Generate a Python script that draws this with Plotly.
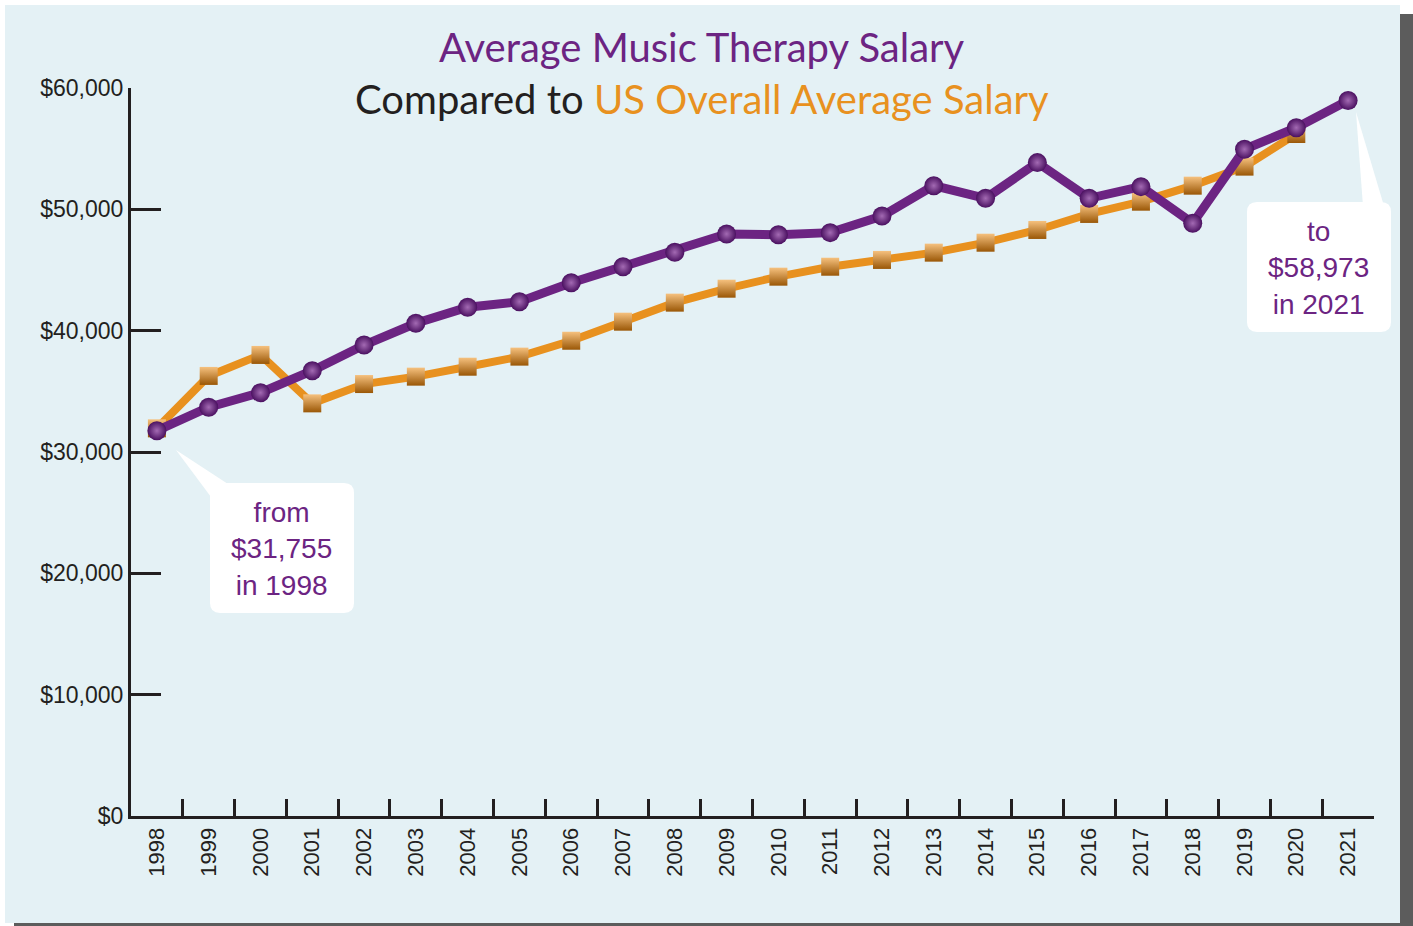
import plotly.graph_objects as go

# ---------------- data ----------------
years = [str(y) for y in range(1998, 2022)]
music_therapy_salary = [31755, 33690, 34890, 36700, 38820, 40610, 41930, 42390,
                        43950, 45270, 46460, 47970, 47910, 48080, 49450, 51950,
                        50910, 53850, 50910, 51870, 48850, 54950, 56730, 58973]
us_years = [str(y) for y in range(1998, 2021)]
us_overall_salary = [31950, 36270, 38000, 34010, 35600, 36210, 37030, 37860,
                     39170, 40740, 42310, 43460, 44450, 45270, 45830, 46430,
                     47250, 48300, 49620, 50630, 51950, 53520, 56210]
y_tick_vals = [0, 10000, 20000, 30000, 40000, 50000, 60000]
y_tick_text = ["$0", "$10,000", "$20,000", "$30,000", "$40,000", "$50,000", "$60,000"]

# ---------------- style ----------------
W, H = 1413, 926
ML, MR, MT, MB = 131, 39, 88, 110
PW, PH = W - ML - MR, H - MT - MB
PURPLE = "#6c2482"
PURPLE_LIGHT = "#a36ab3"
PURPLE_DARK = "#4a1060"
ORANGE = "#e8911f"
ORANGE_LIGHT = "#f6c17e"
ORANGE_DARK = "#9a5706"
PANEL = "#e4f1f5"
AXIS = "#231f20"
LABEL_FONT = "Liberation Sans, Arial, Helvetica, sans-serif"
TITLE_FONT = "Lato, Century Gothic, sans-serif"


def px_x(px):
    return (px - ML) / PW


def px_y(py):
    return (H - MB - py) / PH


def rounded_rect(x0, y0, x1, y1, r):
    def P(x, y):
        return f"{px_x(x):.5f},{px_y(y):.5f}"
    return (f"M {P(x0 + r, y0)} L {P(x1 - r, y0)} Q {P(x1, y0)} {P(x1, y0 + r)} "
            f"L {P(x1, y1 - r)} Q {P(x1, y1)} {P(x1 - r, y1)} "
            f"L {P(x0 + r, y1)} Q {P(x0, y1)} {P(x0, y1 - r)} "
            f"L {P(x0, y0 + r)} Q {P(x0, y0)} {P(x0 + r, y0)} Z")


def triangle(a, b, c):
    def P(p):
        return f"{px_x(p[0]):.5f},{px_y(p[1]):.5f}"
    return f"M {P(a)} L {P(b)} L {P(c)} Z"


fig = go.Figure()

fig.add_trace(go.Scatter(
    x=us_years, y=us_overall_salary, mode="lines+markers",
    line=dict(color=ORANGE, width=8),
    marker=dict(symbol="square", size=18, color=ORANGE_LIGHT,
                gradient=dict(type="vertical", color=ORANGE_DARK),
                line=dict(width=0)),
    showlegend=False, hoverinfo="x+y",
))
fig.add_trace(go.Scatter(
    x=years, y=music_therapy_salary, mode="lines+markers",
    line=dict(color=PURPLE, width=9),
    marker=dict(symbol="circle", size=19, color=PURPLE_DARK,
                gradient=dict(type="radial", color=PURPLE_LIGHT),
                line=dict(width=0)),
    showlegend=False, hoverinfo="x+y",
))

shapes = [
    # drop shadow and panel
    dict(type="rect", xref="paper", yref="paper", layer="below",
         x0=px_x(14), x1=px_x(1413), y0=px_y(926), y1=px_y(14),
         fillcolor="#5c5c5c", line=dict(width=0)),
    dict(type="rect", xref="paper", yref="paper", layer="below",
         x0=px_x(5), x1=px_x(1400), y0=px_y(923), y1=px_y(5),
         fillcolor=PANEL, line=dict(width=0)),
    # callout boxes
    dict(type="path", xref="paper", yref="paper", layer="below",
         path=rounded_rect(210, 483, 354, 613, 10),
         fillcolor="white", line=dict(width=0)),
    dict(type="path", xref="paper", yref="paper", layer="below",
         path=triangle((176, 450), (211, 497), (228, 484)),
         fillcolor="white", line=dict(width=0)),
    dict(type="path", xref="paper", yref="paper", layer="below",
         path=rounded_rect(1247, 202, 1391, 332, 10),
         fillcolor="white", line=dict(width=0)),
    dict(type="path", xref="paper", yref="paper", layer="below",
         path=triangle((1356, 112), (1363, 206), (1384, 206)),
         fillcolor="white", line=dict(width=0)),
]

annotations = [
    dict(xref="paper", yref="paper", x=px_x(702), y=px_y(47),
         text="Average Music Therapy Salary", showarrow=False,
         xanchor="center", yanchor="middle",
         font=dict(family=TITLE_FONT, size=40, color=PURPLE)),
    dict(xref="paper", yref="paper", x=px_x(702), y=px_y(99),
         text=f"Compared to <span style='color:{ORANGE}'>US Overall Average Salary</span>",
         showarrow=False, xanchor="center", yanchor="middle",
         font=dict(family=TITLE_FONT, size=40, color="#231f20")),
    dict(xref="paper", yref="paper", x=px_x(281), y=px_y(549),
         text="from<br>$31,755<br>in 1998", showarrow=False,
         xanchor="center", yanchor="middle", align="center",
         font=dict(family=LABEL_FONT, size=28, color=PURPLE)),
    dict(xref="paper", yref="paper", x=px_x(1318), y=px_y(268),
         text="to<br>$58,973<br>in 2021", showarrow=False,
         xanchor="center", yanchor="middle", align="center",
         font=dict(family=LABEL_FONT, size=28, color=PURPLE)),
]

fig.update_layout(
    width=W, height=H,
    margin=dict(l=ML, r=MR, t=MT, b=MB, pad=0),
    paper_bgcolor="white", plot_bgcolor="rgba(0,0,0,0)",
    shapes=shapes, annotations=annotations,
    xaxis=dict(type="category", categoryorder="array", categoryarray=years,
               range=[-0.5, len(years) - 0.5],
               tickson="boundaries", ticks="inside", ticklen=17, tickwidth=3,
               tickcolor=AXIS, showline=True, linecolor=AXIS, linewidth=3,
               showgrid=False, zeroline=False, tickangle=-90,
               tickfont=dict(family=LABEL_FONT, size=22, color=AXIS)),
    yaxis=dict(range=[0, 60000], tickvals=y_tick_vals, ticktext=y_tick_text,
               ticks="inside", ticklen=30, tickwidth=3, tickcolor=AXIS,
               showline=True, linecolor=AXIS, linewidth=3,
               showgrid=False, zeroline=False,
               tickfont=dict(family=LABEL_FONT, size=23, color=AXIS)),
)

fig.write_html("out.html", config={"displayModeBar": False},
               post_script="document.body.style.margin='0';")
